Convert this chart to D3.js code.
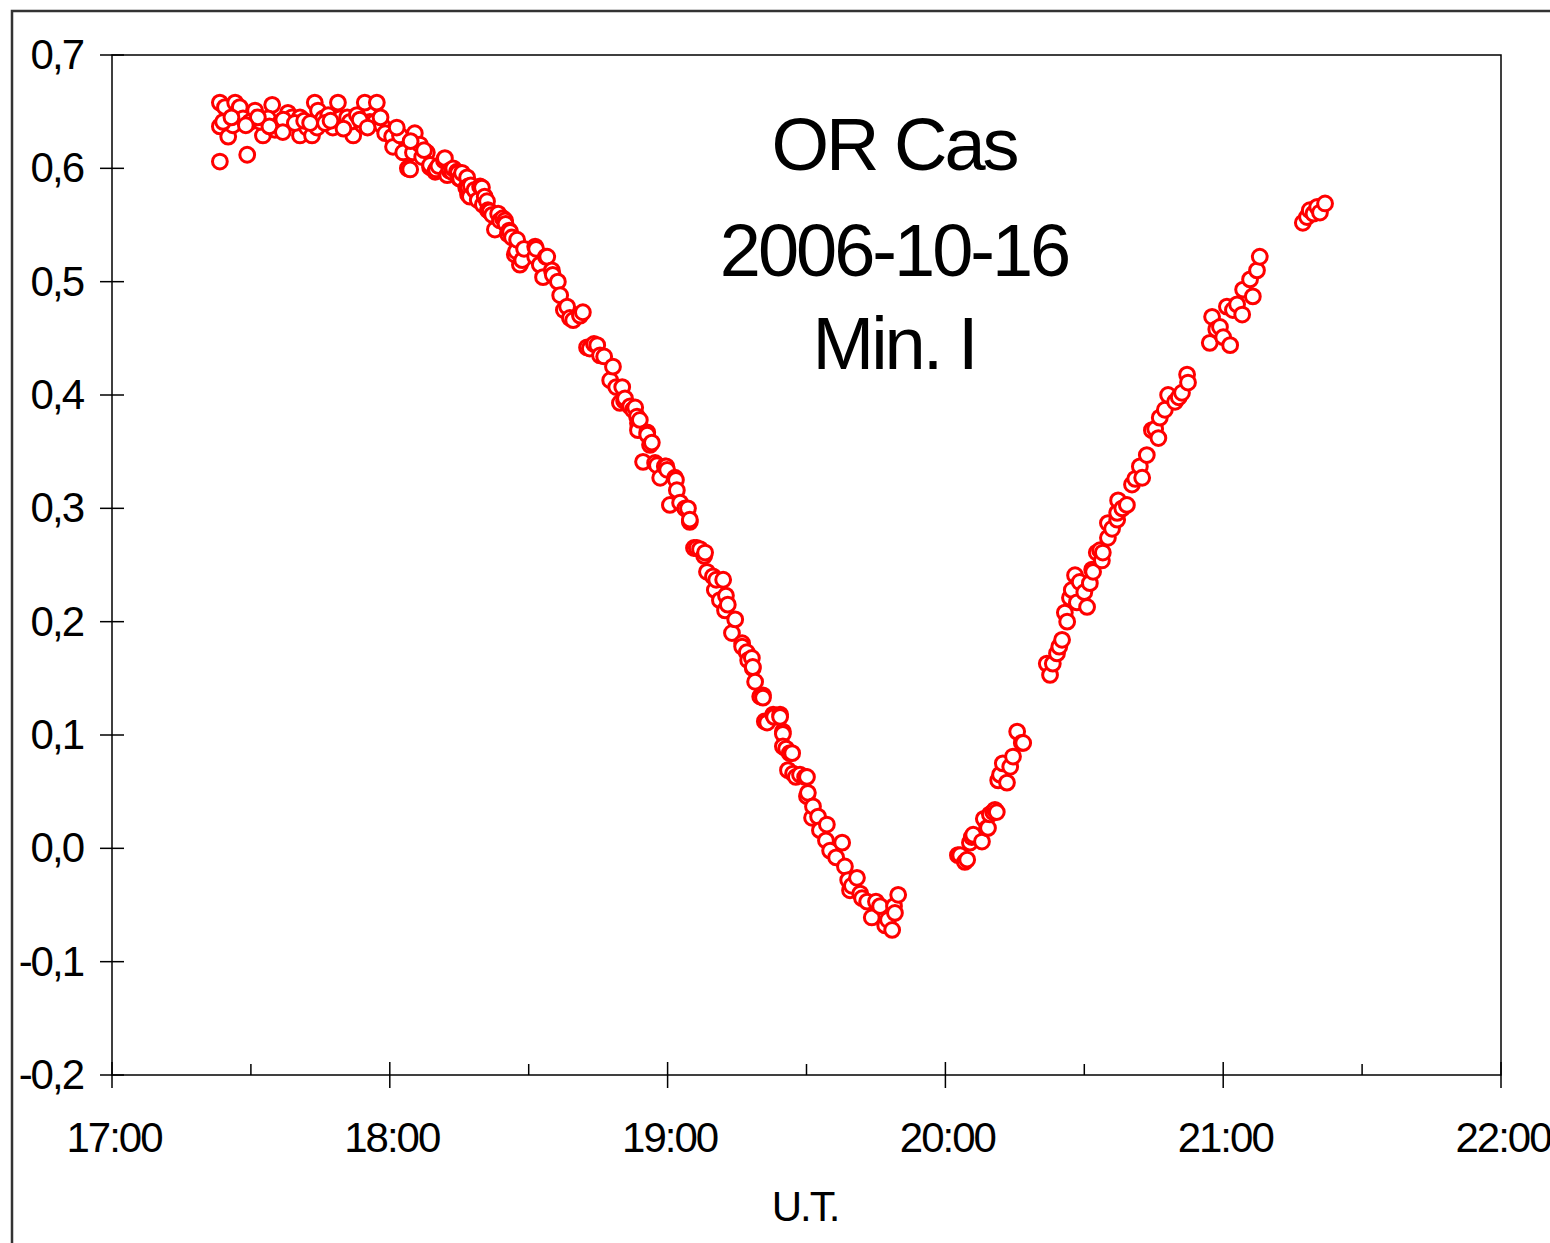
<!DOCTYPE html>
<html>
<head>
<meta charset="utf-8">
<script src="https://cdn.jsdelivr.net/npm/d3@7.9.0/dist/d3.min.js"></script>
<style>
  body { margin: 0; background: #fff; }
  text { font-family: "Liberation Sans", Arial, sans-serif; fill: #000; }
</style>
</head>
<body>
<svg id="chart" width="1550" height="1243"></svg>
<script>
// OR Cas, 2006-10-16, primary minimum. time = minutes after 17:00 UT, value = delta mag
const plateau = [
  [23.3,0.658],[24.4,0.654],[26.6,0.658],[27.6,0.654],[23.3,0.637],[25.1,0.628],[26.1,0.638],
  [23.3,0.606],[29.2,0.612],[28.3,0.644],[30.9,0.651],[29.8,0.641],[32.6,0.629],[32.0,0.641],
  [34.6,0.656],[33.7,0.644],[35.2,0.634],[36.3,0.640],[38.0,0.649],[38.9,0.645],[40.6,0.645],
  [40.6,0.629],[42.1,0.636],[43.2,0.629],[43.8,0.658],[44.5,0.651],[44.3,0.636],[45.6,0.644],
  [46.7,0.647],[47.7,0.636],[48.8,0.658],[49.2,0.644],[50.8,0.645],[52.1,0.629],[51.4,0.641],
  [52.9,0.647],[54.2,0.638],[54.6,0.658],[55.7,0.641],[57.2,0.658],[56.8,0.641],[58.3,0.638],
  [59.0,0.631],[60.5,0.628],[60.7,0.619],[62.2,0.629],[62.9,0.614],[63.9,0.600],[65.4,0.631],
  [65.0,0.614],[66.5,0.621],[68.0,0.614],[24.0,0.641],[31.5,0.645],[37.0,0.643],[39.5,0.640],
  [41.5,0.642],[46.0,0.640],[50.0,0.635],[53.5,0.643],[58.0,0.645],[61.5,0.636],[64.5,0.624],
  [25.8,0.645],[28.9,0.638],[34.0,0.637],[36.9,0.632],[42.8,0.640],[47.2,0.642],[55.2,0.636]
];
const ingress = [
  [64.4,0.599],[67.0,0.610],[67.4,0.616],[68.7,0.601],[68.7,0.603],[69.8,0.597],[70.0,0.599],
  [70.5,0.602],[71.7,0.607],[71.9,0.609],[72.4,0.594],[72.9,0.598],[73.4,0.597],[73.7,0.600],
  [74.5,0.597],[74.7,0.596],[75.0,0.591],[75.2,0.591],[75.6,0.596],[76.5,0.583],[76.7,0.592],
  [76.9,0.577],[76.9,0.584],[77.3,0.575],[77.5,0.585],[78.3,0.581],[79.0,0.572],[79.5,0.584],
  [79.9,0.583],[80.1,0.568],[80.5,0.575],[81.0,0.571],[81.2,0.563],[81.6,0.562],[82.1,0.559],
  [82.7,0.546],[83.4,0.560],[83.8,0.554],[84.4,0.556],[84.9,0.554],[85.0,0.551],[85.5,0.542],
  [85.8,0.545],[86.0,0.544],[86.4,0.539],[87.0,0.524],[87.3,0.527],[87.5,0.537],[88.1,0.515],
  [88.6,0.519],[89.0,0.529],[91.4,0.531],[91.4,0.522],[91.6,0.529],[92.4,0.515],[93.1,0.504],
  [93.7,0.522],[94.0,0.522],[95.0,0.510],[95.2,0.506],[96.3,0.500],[96.8,0.488],[97.6,0.475],
  [98.3,0.478],[98.9,0.468],[99.6,0.466],[101.1,0.471],[101.1,0.470],[101.7,0.473],[102.6,0.442],
  [103.2,0.441],[104.1,0.445],[104.8,0.444],[105.4,0.435],[106.3,0.434],[107.6,0.413],[108.2,0.425],
  [108.9,0.407],[109.7,0.393],[110.2,0.407],[110.6,0.395],[110.8,0.397],[111.9,0.390],[112.5,0.387],
  [113.0,0.389],[113.4,0.381],[113.6,0.375],[113.6,0.369],[114.0,0.378],[114.7,0.341],[115.6,0.367],
  [115.6,0.365],[116.2,0.356],[116.6,0.358],[117.3,0.340],[117.7,0.338],[118.4,0.327],[119.4,0.337],
  [119.7,0.337],[119.9,0.334],[120.5,0.303],[121.6,0.327],[121.8,0.325],[122.0,0.316],[122.7,0.305],
  [123.8,0.300],[124.4,0.300],[124.8,0.288],[124.8,0.290],[125.7,0.265],[126.3,0.265],[127.0,0.264],
  [127.9,0.258],[128.1,0.261],[128.5,0.244],[129.8,0.240],[130.2,0.228],[130.5,0.237],[131.3,0.219],
  [132.0,0.237],[132.4,0.210],[132.6,0.223],[133.0,0.215],[133.9,0.190],[134.6,0.202],[136.1,0.181],
  [136.1,0.178],[137.1,0.173],[137.4,0.166],[138.2,0.168],[138.4,0.159],[138.4,0.160],[138.9,0.147],
  [140.0,0.134],[140.6,0.135],[140.6,0.133],[141.0,0.112],[141.5,0.111],[142.8,0.118],[143.0,0.116],
  [144.3,0.118],[144.3,0.116],[144.9,0.103],[144.9,0.101],[144.9,0.090],[145.6,0.088],[146.0,0.069],
  [146.4,0.084],[146.9,0.084],[147.1,0.066],[147.7,0.063],[148.6,0.065],[149.7,0.063],[150.1,0.063],
  [150.1,0.046],[150.3,0.049],[151.2,0.027],[151.4,0.037],[152.5,0.028],[152.9,0.016],[154.2,0.007],
  [154.4,0.021],[155.1,-0.002],[156.4,-0.008],[157.7,0.005],[158.3,-0.016],[159.0,-0.028],[159.4,-0.037],
  [159.8,-0.033],[160.9,-0.026],[161.6,-0.040],[162.0,-0.044],[163.1,-0.047],[164.1,-0.061],[165.0,-0.047],
  [165.9,-0.051],[167.0,-0.068],[167.6,-0.063],[168.5,-0.072],[168.9,-0.051],[169.1,-0.057],[169.8,-0.041]
];
const egressA = [
  [182.7,-0.006],[183.2,-0.006],[184.2,-0.012],[184.7,-0.010],[185.3,0.005],[185.7,0.010],[186.0,0.012],
  [187.9,0.006],[188.3,0.026],[189.0,0.018],[189.2,0.018],[189.6,0.030],[190.3,0.032],[190.7,0.034],
  [191.1,0.032],[191.4,0.060],[191.8,0.065],[192.4,0.075],[193.3,0.058],[194.0,0.072],[194.6,0.081],
  [195.5,0.103],[196.5,0.093],[196.8,0.093]
];
const egressB = [
  [201.9,0.163],[202.6,0.153],[203.2,0.163],[204.1,0.172],[204.6,0.178],[205.2,0.184],[205.8,0.208],
  [206.3,0.200],[206.9,0.221],[207.3,0.228],[208.0,0.241],[208.4,0.217],[209.0,0.235],[210.0,0.226],
  [210.6,0.213],[211.2,0.234],[211.7,0.246],[211.9,0.244],[212.7,0.261],[213.4,0.263],[213.8,0.254],
  [214.0,0.261],[215.1,0.274],[215.1,0.287],[216.0,0.282],[217.1,0.290],[217.1,0.296],[217.3,0.307],
  [218.2,0.300],[219.2,0.303],[220.3,0.321],[221.0,0.326],[222.0,0.337],[222.5,0.327],[223.5,0.347],
  [224.6,0.369],[225.3,0.370],[226.0,0.362],[226.3,0.380],[227.4,0.387],[228.1,0.400],[229.6,0.394],
  [230.4,0.398],[231.1,0.402],[232.2,0.418],[232.4,0.411]
];
const egressC = [
  [237.1,0.446],[237.6,0.469],[238.5,0.458],[239.3,0.460],[240.0,0.451],[240.8,0.478],[241.5,0.444],
  [242.1,0.475],[243.0,0.480],[244.1,0.471],[244.3,0.493],[245.8,0.502],[246.4,0.487],[247.3,0.510],
  [247.9,0.522]
];
const egressD = [
  [257.2,0.552],[258.1,0.557],[258.7,0.563],[259.5,0.560],[260.3,0.566],[260.9,0.561],[262.0,0.569]
];

const xTickMinutes = [0, 60, 120, 180, 240, 300];
const xTickLabels = ["17:00", "18:00", "19:00", "20:00", "21:00", "22:00"];
const xMinorMinutes = [30, 90, 150, 210, 270];
const yTicks = [-0.2, -0.1, 0.0, 0.1, 0.2, 0.3, 0.4, 0.5, 0.6, 0.7];
const titleLines = ["OR Cas", "2006-10-16", "Min. I"];

const svg = d3.select("#chart");

// outer frame (clipped at right / bottom like the original)
svg.append("rect")
  .attr("x", 12).attr("y", 11)
  .attr("width", 1600).attr("height", 1300)
  .attr("fill", "none").attr("stroke", "#333").attr("stroke-width", 2.5);

const x = d3.scaleLinear().domain([0, 300]).range([112, 1501]);
const y = d3.scaleLinear().domain([-0.2, 0.7]).range([1075, 55]);

// plot area border
svg.append("rect")
  .attr("x", x(0)).attr("y", y(0.7))
  .attr("width", x(300) - x(0)).attr("height", y(-0.2) - y(0.7))
  .attr("fill", "none").attr("stroke", "#000").attr("stroke-width", 1.5);

// y ticks (crossing the axis)
svg.selectAll(".ytick").data(yTicks).join("line")
  .attr("x1", x(0) - 12).attr("x2", x(0) + 12)
  .attr("y1", d => y(d)).attr("y2", d => y(d))
  .attr("stroke", "#000").attr("stroke-width", 1.5);

const fmt = d => d3.format(".1f")(d).replace(".", ",").replace("\u2212", "-");
svg.selectAll(".ylab").data(yTicks).join("text")
  .attr("x", 83).attr("y", d => y(d) + 14)
  .attr("text-anchor", "end")
  .attr("font-size", 42).attr("letter-spacing", -2)
  .text(fmt);

// x ticks
svg.selectAll(".xtick").data(xTickMinutes).join("line")
  .attr("x1", d => x(d)).attr("x2", d => x(d))
  .attr("y1", y(-0.2) - 13).attr("y2", y(-0.2) + 13)
  .attr("stroke", "#000").attr("stroke-width", 1.5);
svg.selectAll(".xminor").data(xMinorMinutes).join("line")
  .attr("x1", d => x(d)).attr("x2", d => x(d))
  .attr("y1", y(-0.2) - 11).attr("y2", y(-0.2))
  .attr("stroke", "#000").attr("stroke-width", 1.5);

svg.selectAll(".xlab").data(xTickMinutes).join("text")
  .attr("x", d => x(d) + 2).attr("y", 1152)
  .attr("text-anchor", "middle")
  .attr("font-size", 42).attr("letter-spacing", -2)
  .text((d, i) => xTickLabels[i]);

svg.append("text")
  .attr("x", 805).attr("y", 1221)
  .attr("text-anchor", "middle")
  .attr("font-size", 42).attr("letter-spacing", -2)
  .text("U.T.");

// title block
svg.selectAll(".title").data(titleLines).join("text")
  .attr("x", 894).attr("y", (d, i) => [170, 276, 369][i])
  .attr("text-anchor", "middle")
  .attr("font-size", 74).attr("letter-spacing", -3)
  .text(d => d);

// observations
const allPoints = [...plateau, ...ingress, ...egressA, ...egressB, ...egressC, ...egressD];
svg.append("g").selectAll("circle").data(allPoints).join("circle")
  .attr("cx", d => x(d[0]))
  .attr("cy", d => y(d[1]))
  .attr("r", 7.4)
  .attr("fill", "#fff")
  .attr("stroke", "#ff0000")
  .attr("stroke-width", 3);
</script>
</body>
</html>
